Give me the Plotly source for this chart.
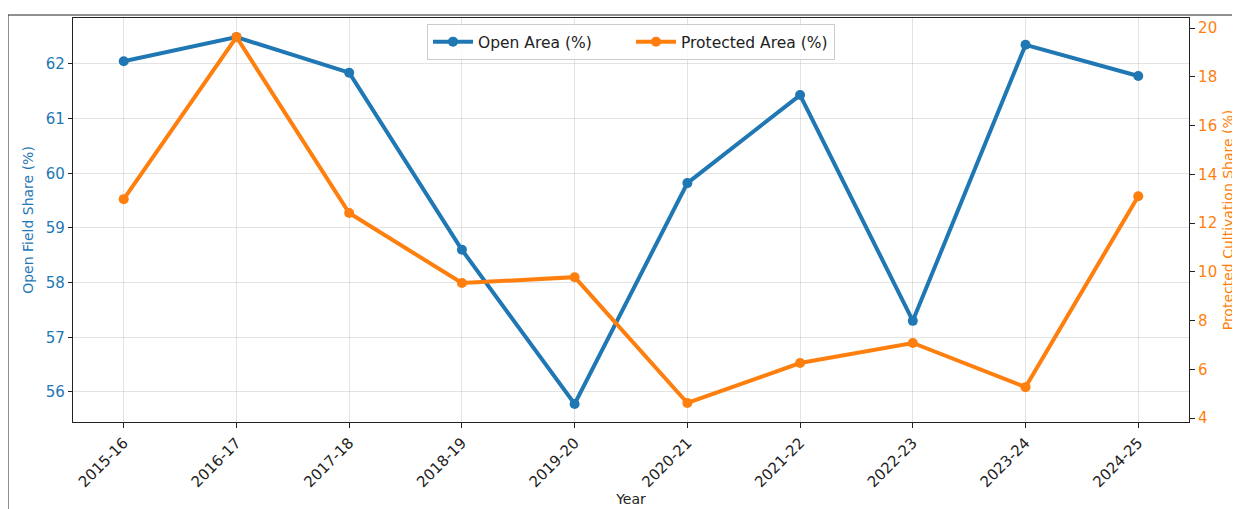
import plotly.graph_objects as go

years = ["2015-16", "2016-17", "2017-18", "2018-19", "2019-20",
         "2020-21", "2021-22", "2022-23", "2023-24", "2024-25"]
open_area = [62.05, 62.49, 61.84, 58.60, 55.78, 59.82, 61.43, 57.30, 62.35, 61.78]
protected_area = [12.98, 19.63, 12.41, 9.54, 9.78, 4.62, 6.26, 7.08, 5.27, 13.10]

BLUE = "#1f77b4"
ORANGE = "#ff7f0e"
FONT = "DejaVu Sans"
FS = 14
TFS = 15

# page body has an 8px margin, so the figure starts at (8, 8) on the page
W, H = 1232, 501
L, R, T, B = 65, 51, 10, 87
PW, PH = W - L - R, H - T - B

fig = go.Figure()
fig.add_trace(go.Scatter(
    x=list(range(len(years))), y=open_area, name="Open Area (%)",
    mode="lines+markers", line=dict(color=BLUE, width=4),
    marker=dict(color=BLUE, size=10), yaxis="y"))
fig.add_trace(go.Scatter(
    x=list(range(len(years))), y=protected_area, name="Protected Area (%)",
    mode="lines+markers", line=dict(color=ORANGE, width=4),
    marker=dict(color=ORANGE, size=10), yaxis="y2"))

fig.update_layout(
    width=W, height=H,
    margin=dict(l=L, r=R, t=T, b=B, autoexpand=False),
    paper_bgcolor="white", plot_bgcolor="white",
    font=dict(family=FONT, size=FS, color="#222222"),
    showlegend=True,
    legend=dict(orientation="h", x=0.5, xanchor="center", y=0.985, yanchor="top",
                bgcolor="rgba(255,255,255,0.8)", bordercolor="#cccccc", borderwidth=1,
                font=dict(family=FONT, size=15.5, color="#222222"),
                itemwidth=40, entrywidth=148, entrywidthmode="pixels"),
    xaxis=dict(
        tickmode="array", tickvals=list(range(len(years))), ticktext=years,
        range=[-0.45, 9.45], tickangle=-45, automargin=False,
        showgrid=True, gridcolor="rgba(176,176,176,0.35)", gridwidth=1,
        showline=True, linecolor="#222222", linewidth=1.2, mirror=True,
        ticks="outside", ticklen=5, tickcolor="#222222",
        tickfont=dict(family=FONT, size=TFS, color="#222222"),
        title=dict(text="Year", font=dict(family=FONT, size=FS, color="#222222"), standoff=4),
        zeroline=False),
    yaxis=dict(
        range=[55.45, 62.84], tickvals=[56, 57, 58, 59, 60, 61, 62], automargin=False,
        showgrid=True, gridcolor="rgba(176,176,176,0.35)", gridwidth=1,
        showline=True, linecolor="#222222", linewidth=1.2, mirror=True,
        ticks="outside", ticklen=4, tickcolor="#222222",
        tickfont=dict(family=FONT, size=TFS, color=BLUE),
        title=dict(text="Open Field Share (%)", font=dict(family=FONT, size=FS, color=BLUE), standoff=8),
        zeroline=False),
    yaxis2=dict(
        range=[3.84, 20.41], tickvals=[4, 6, 8, 10, 12, 14, 16, 18, 20],
        overlaying="y", side="right", showgrid=False, automargin=False,
        showline=True, linecolor="#222222", linewidth=1.2,
        ticks="outside", ticklen=5, tickcolor="#222222",
        tickfont=dict(family=FONT, size=TFS, color=ORANGE),
        title=dict(text="Protected Cultivation Share (%)", font=dict(family=FONT, size=FS, color=ORANGE), standoff=7),
        zeroline=False),
)

# outer frame lines (left and top) seen in the original picture
x_left = (0 - L) / PW
y_top = 1 + (T - 7) / PH
y_bot = -B / PH
x_right = 1 + R / PW
fig.add_shape(type="line", xref="paper", yref="paper", x0=x_left, x1=x_left, y0=y_bot, y1=y_top,
              line=dict(color="#222222", width=1))
fig.add_shape(type="line", xref="paper", yref="paper", x0=x_left, x1=x_right, y0=y_top, y1=y_top,
              line=dict(color="#222222", width=1))

fig.write_html("out.html")
